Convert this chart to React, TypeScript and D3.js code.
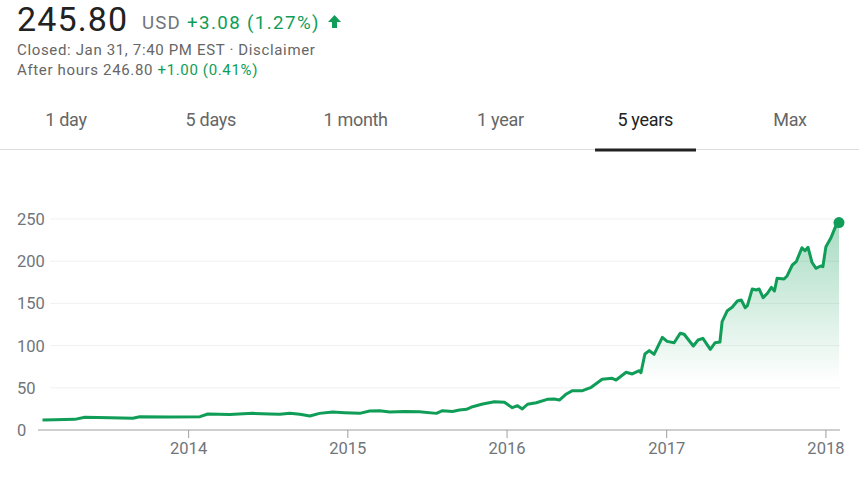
import * as d3 from "d3";

// price points (date, close)
const dates = [
  "2013-01-31", "2013-02-28", "2013-04-15", "2013-05-08", "2013-07-05", "2013-08-26",
  "2013-09-11", "2013-11-19", "2014-01-27", "2014-02-14", "2014-04-05", "2014-05-28",
  "2014-07-06", "2014-07-29", "2014-08-21", "2014-09-13", "2014-10-06", "2014-10-28",
  "2014-11-27", "2014-12-25", "2015-01-28", "2015-02-20", "2015-03-15", "2015-04-07",
  "2015-05-11", "2015-06-14", "2015-07-23", "2015-08-06", "2015-08-29", "2015-09-14",
  "2015-09-30", "2015-10-14", "2015-11-06", "2015-12-03", "2015-12-26", "2016-01-13",
  "2016-01-25", "2016-02-05", "2016-02-17", "2016-03-08", "2016-04-02", "2016-04-18",
  "2016-04-30", "2016-05-16", "2016-05-30", "2016-06-22", "2016-07-12", "2016-08-06",
  "2016-08-29", "2016-09-07", "2016-09-30", "2016-10-14", "2016-10-30", "2016-11-03",
  "2016-11-12", "2016-11-22", "2016-12-03", "2016-12-22", "2017-01-02", "2017-01-18",
  "2017-02-01", "2017-02-10", "2017-03-03", "2017-03-14", "2017-03-25", "2017-04-11",
  "2017-04-22", "2017-05-03", "2017-05-08", "2017-05-20", "2017-05-31", "2017-06-12",
  "2017-06-21", "2017-06-30", "2017-07-05", "2017-07-16", "2017-07-25", "2017-08-01",
  "2017-08-10", "2017-08-20", "2017-08-29", "2017-09-05", "2017-09-11", "2017-09-27",
  "2017-10-04", "2017-10-16", "2017-10-25", "2017-11-07", "2017-11-14", "2017-11-21",
  "2017-11-30", "2017-12-09", "2017-12-20", "2017-12-25", "2018-01-01", "2018-01-12",
  "2018-01-23", "2018-01-31",
];

const prices = [
  11.8, 12.2, 12.6, 15.0, 14.5, 13.9,
  15.8, 15.5, 15.8, 19.0, 18.5, 19.7,
  19.0, 18.6, 19.8, 18.6, 16.6, 19.7,
  21.3, 20.5, 19.7, 22.5, 22.9, 21.3,
  22.0, 21.5, 19.7, 22.9, 22.0, 23.7,
  24.5, 27.6, 30.8, 33.5, 32.8, 26.4,
  28.8, 24.9, 30.5, 32.3, 36.3, 36.7,
  35.5, 42.7, 46.6, 46.6, 50.6, 60.1,
  61.3, 59.2, 68.4, 66.4, 70.3, 67.9,
  90.0, 94.0, 89.7, 109.8, 105.0, 103.4,
  114.6, 113.4, 99.5, 106.6, 108.6, 95.6,
  103.4, 104.3, 128.3, 141.4, 145.4, 152.8,
  154.0, 144.9, 147.3, 167.0, 165.9, 167.0,
  156.8, 162.0, 169.0, 164.7, 179.7, 178.9,
  182.5, 195.5, 199.4, 216.0, 212.4, 216.5,
  198.7, 191.6, 194.3, 193.5, 217.2, 227.1,
  240.9, 245.8,
];

const yTicks = [0, 50, 100, 150, 200, 250];
const tabs = ["1 day", "5 days", "1 month", "1 year", "5 years", "Max"];
const activeTab = "5 years";

const GREEN = "#0f9d58";
const GRAY = "#70757a";
const FONT = "Roboto, Arial, sans-serif";

const W = 859;
const H = 483;

function App() {
  const parse = d3.timeParse("%Y-%m-%d");
  const data = dates.map((d, i) => ({ date: parse(d) as Date, value: prices[i] }));

  const x = d3
    .scaleTime()
    .domain([parse("2013-01-31") as Date, parse("2018-01-31") as Date])
    .range([42.5, 839]);
  const y = d3.scaleLinear().domain([0, 250]).range([430, 219]);

  const line = d3
    .line<{ date: Date; value: number }>()
    .x((d) => x(d.date))
    .y((d) => y(d.value));
  const area = d3
    .area<{ date: Date; value: number }>()
    .x((d) => x(d.date))
    .y0(y(0))
    .y1((d) => y(d.value));

  const years = x.ticks(d3.timeYear.every(1) as d3.TimeInterval).filter((d) => d >= x.domain()[0]);
  const last = data[data.length - 1];

  const tabX = d3.scalePoint<string>().domain(tabs).range([66, 790]);

  return (
    <svg
      width={W}
      height={H}
      style={{ position: "absolute", left: 0, top: 0, background: "#fff" }}
      fontFamily={FONT}
    >
      <defs>
        <linearGradient id="fade" gradientUnits="userSpaceOnUse" x1={0} y1={y(245)} x2={0} y2={y(55)}>
          <stop offset="0%" stopColor={GREEN} stopOpacity={0.36} />
          <stop offset="100%" stopColor={GREEN} stopOpacity={0} />
        </linearGradient>
      </defs>

      {/* header */}
      <text x={17} y={31} fontSize={34} letterSpacing={1.1} fill="#222">245.80</text>
      <text x={142} y={29} fontSize={18.7} letterSpacing={1.2} fill={GRAY}>USD</text>
      <text x={187} y={29} fontSize={18.7} letterSpacing={1.4} fill={GREEN}>+3.08 (1.27%)</text>
      <path d="M334.5,15 L341,22 L337,22 L337,28 L332,28 L332,22 L328,22 Z" fill={GREEN} />
      <text x={17} y={55} fontSize={15} letterSpacing={0.65} fill="#666">
        Closed: Jan 31, 7:40 PM EST · Disclaimer
      </text>
      <text x={17} y={75} fontSize={15} letterSpacing={0.65} fill="#666">
        After hours 246.80 <tspan fill={GREEN}>+1.00 (0.41%)</tspan>
      </text>

      {/* range tabs */}
      {tabs.map((t) => (
        <text
          key={t}
          x={tabX(t)}
          y={126}
          fontSize={18}
          letterSpacing={-0.3}
          textAnchor="middle"
          fill={t === activeTab ? "#222" : "#666"}
        >
          {t}
        </text>
      ))}
      <line x1={0} x2={W} y1={149.5} y2={149.5} stroke="#dadce0" />
      <rect x={595} y={148.5} width={101} height={3} fill="#222" />

      {/* grid */}
      {yTicks.map((t) => (
        <g key={t}>
          {t > 0 && <line x1={50} x2={840} y1={y(t)} y2={y(t)} stroke="#f1f1f1" />}
          <text x={17} y={y(t) + 6} fontSize={16.5} fill={GRAY}>{t}</text>
        </g>
      ))}

      {/* area + line */}
      <path d={area(data) ?? ""} fill="url(#fade)" />
      <line x1={38} x2={840} y1={y(0)} y2={y(0)} stroke="#9e9e9e" />
      {years.map((d) => (
        <g key={+d}>
          <line x1={x(d)} x2={x(d)} y1={y(0)} y2={y(0) + 8} stroke="#9e9e9e" />
          <text x={x(d)} y={454} fontSize={16.5} textAnchor="middle" fill={GRAY}>
            {d3.timeFormat("%Y")(d)}
          </text>
        </g>
      ))}
      <path d={line(data) ?? ""} fill="none" stroke={GREEN} strokeWidth={3} strokeLinejoin="round" />
      <circle cx={x(last.date)} cy={y(last.value)} r={5.5} fill={GREEN} />
    </svg>
  );
}

export default App;
